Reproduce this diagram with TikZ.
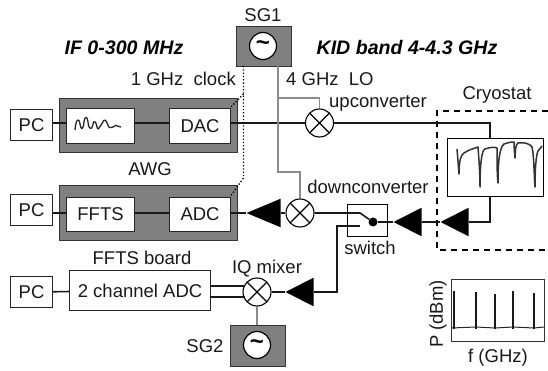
\documentclass[tikz,border=0pt]{standalone}
\usepackage{fontspec}
\setmainfont{Liberation Sans}
\usetikzlibrary{shapes.geometric}
\tikzset{
  x=1pt,y=-1pt,
  lbl/.style={inner sep=0pt,font=\fontsize{18.5}{20}\selectfont,text=black!90},
  ital/.style={inner sep=0pt,font=\fontsize{19.6}{22}\selectfont\bfseries\itshape},
  box/.style={draw=black!85,fill=white,line width=1.1pt,inner sep=0pt,anchor=north west,font=\fontsize{18.5}{20}\selectfont,text=black!90},
  greybox/.style={draw=black!80,fill=black!50,line width=1pt,inner sep=0pt,anchor=north west},
  wire/.style={line width=1.6pt,black!90},
  lo/.style={line width=1.3pt,black!45},
  clk/.style={line width=1.3pt,dotted,black},
  mixer/.style={circle,draw=black,fill=white,line width=1.1pt,minimum size=28pt,inner sep=0pt,
    path picture={\draw[line width=1.1pt] (path picture bounding box.north west)--(path picture bounding box.south east)
      (path picture bounding box.north east)--(path picture bounding box.south west);}},
  osc/.style={circle,draw=black,fill=white,line width=1.2pt,minimum size=27pt,inner sep=0pt,font=\fontsize{24}{24}\selectfont\bfseries},
  amp/.style={isosceles triangle,isosceles triangle stretches,shape border rotate=180,fill=black,inner sep=0pt,
    minimum width=28.5pt,minimum height=28pt,anchor=apex},
  bigamp/.style={amp,minimum height=34pt},
}
\begin{document}
\begin{tikzpicture}
\useasboundingbox (0,0) rectangle (548,371);
% grey housings
\node[greybox,minimum width=178pt,minimum height=54pt] (awg1) at (59,98) {};
\node[greybox,minimum width=178pt,minimum height=55pt] (awg2) at (59,185) {};
\node[greybox,minimum width=55pt,minimum height=40pt] (sg1) at (236,26) {};
\node[greybox,minimum width=55pt,minimum height=41pt] (sg2) at (230,325) {};
\node[osc] (o1) at (263,46) {\textasciitilde};
\node[osc] (o2) at (257,345) {\textasciitilde};
% boxes
\node[box,minimum width=42pt,minimum height=31pt] (pc1) at (10,109) {PC};
\node[box,minimum width=42pt,minimum height=31pt] (pc2) at (10,194) {PC};
\node[box,minimum width=42pt,minimum height=31pt] (pc3) at (10,276) {PC};
\node[box,minimum width=68pt,minimum height=35pt] (wave) at (66,108) {};
\node[box,minimum width=61pt,minimum height=35pt] (dac) at (169,108) {DAC};
\node[box,minimum width=68pt,minimum height=34pt] (ffts) at (66,197) {FFTS};
\node[box,minimum width=61pt,minimum height=34pt] (adc) at (169,197) {ADC};
\node[box,minimum width=141pt,minimum height=40pt] (board) at (69,270) {2 channel ADC};
\node[draw=black,fill=white,line width=1.4pt,inner sep=0pt,anchor=north west,minimum width=40pt,minimum height=32pt] (sw) at (347,204) {};
\node[draw=black,line width=1.4pt,inner sep=0pt,anchor=north west,minimum width=96pt,minimum height=58pt] (kid) at (447,138) {};
\node[draw=black!80,line width=1.1pt,inner sep=0pt,anchor=north west,minimum width=93pt,minimum height=62pt] (spec) at (451,279) {};
% mixers
\node[mixer] (up) at (319.5,123) {};
\node[mixer] (down) at (300,213) {};
\node[mixer] (iq) at (257,292) {};
% amplifiers
\node[bigamp] (a1) at (246,213) {};
\node[amp] (a2) at (285,292) {};
\node[amp] (a3) at (393,222) {};
\node[amp] (a4) at (440,222) {};
\node[circle,fill=black,minimum size=9pt,inner sep=0pt] (dot) at (373,222) {};
% coordinates
\coordinate (lo1) at (278,66);
\coordinate (lo2) at (278,98);
\coordinate (lo3) at (278,172);
\coordinate (cks) at (243.5,66);
\coordinate (ckm) at (243.5,94);
\coordinate (ckn) at (243.5,178);
\coordinate (ckd) at (230,108);
\coordinate (cka) at (230,197);
\coordinate (kidtop) at (490,123);
\coordinate (kidbot) at (490,222);
\coordinate (swa) at (360,213);
\coordinate (swb) at (360,226);
\coordinate (swc) at (337,226);
\coordinate (swd) at (337,292);
\coordinate (ia) at (245,286);
\coordinate (ib) at (245,297);
\coordinate (ba) at (210,286);
\coordinate (bb) at (210,297);
% dashed cryostat
\draw[line width=1.4pt,black,dash pattern=on 6pt off 5pt] (548,111) -- (437,111) -- (437,250) -- (548,250);
% wires
\draw[wire] (pc1.east |- up) -- (wave.west |- up);
\draw[wire] (wave.east |- up) -- (dac.west |- up);
\draw[wire] (dac.east |- up) -- (up);
\draw[wire] (up) -- (kidtop) -- (kid.north -| kidtop);
\draw[wire] (pc2.east |- down) -- (ffts.west |- down);
\draw[wire] (ffts.east |- down) -- (adc.west |- down);
\draw[wire] (adc.east |- down) -- (a1.apex);
\draw[wire] (a1) -- (down);
\draw[wire] (down) -- (swa) -- (dot);
\draw[wire] (dot) -- (a3.apex);
\draw[wire] (a3) -- (a4.apex);
\draw[wire] (a4) -- (kidbot) -- (kid.south -| kidbot);
\draw[wire] (swb) -- (swc) -- (swd) -- (a2);
\draw[wire] (a2.apex) -- (iq);
\draw[wire] (pc3) -- (board);
\draw[wire] (ba) -- (ia);
\draw[wire] (bb) -- (ib);
\draw[lo] (lo1) -- (lo3) -| (down);
\draw[lo] (lo2) -| (up);
\draw[lo] (iq) -- (o2 |- sg2.north);
\draw[clk] (cks) -- (ckn) -- (cka);
\draw[clk] (ckm) -- (ckd);
% traces
\draw[line width=1.3pt,black!85,line join=round,rounded corners=1pt] (75,130) .. controls (76,118) and (79,118) .. (80,124) .. controls (81,130) and (83,130) .. (84,122) .. controls (85,116) and (87,116) .. (88,122) .. controls (89,130) and (92,130) .. (93,124) .. controls (94,120) and (96,122) .. (97,127) .. controls (98,131) and (100,126) .. (102,124) .. controls (104,118) and (106,120) .. (108,125) .. controls (109,129) and (113,127) .. (115,126) .. controls (116,125) and (118,127) .. (121,127);
\draw[line width=1.5pt,black!80,line join=round] (457,149) -- (459,174) .. controls (459,160) and (461,155) .. (464,153) .. controls (470,149) and (476,148) .. (478,147) .. controls (479,160) and (480,175) .. (480,187) .. controls (480,170) and (481,150) .. (485,149) .. controls (490,147) and (495,147) .. (497,148) .. controls (497,160) and (497,175) .. (498,183) .. controls (498,165) and (499,148) .. (504,144) .. controls (510,142) and (512,142) .. (514,142) .. controls (514,150) and (515,155) .. (515,158) .. controls (515,150) and (516,144) .. (518,143) .. controls (525,142) and (530,144) .. (532,147) .. controls (534,155) and (534,175) .. (535,187) .. controls (535,170) and (536,155) .. (538,151) -- (542,146);
\draw[line width=1pt,black!85] (451,328) -- (476,327) -- (495,328) -- (513,327) -- (534,328) -- (544,327);
\foreach \xx/\yy in {454/291,476/292,495/294,513/291,534/293}
  \draw[line width=1.7pt,black!90] (\xx,\yy) -- (\xx,329);
% labels
\node[lbl] (t1) at (263,15) {SG1};
\node[ital] (t2) at (124,48) {IF 0-300 MHz};
\node[ital] (t3) at (407,48) {KID band 4-4.3 GHz};
\node[lbl,anchor=east] (t4) at (236,79) {1 GHz\ \ clock};
\node[lbl,anchor=west] (t5) at (286,79) {4 GHz\ \ LO};
\node[lbl,anchor=west] (t6) at (329,103) {upconverter};
\node[lbl] (t7) at (497,95) {Cryostat};
\node[lbl] (t8) at (150,169) {AWG};
\node[lbl] (t9) at (368,187) {downconverter};
\node[lbl] (t10) at (142,258) {FFTS board};
\node[lbl] (t11) at (267,269) {IQ mixer};
\node[lbl] (t12) at (205,346) {SG2};
\node[lbl] (t13) at (370,248) {switch};
\node[lbl,rotate=90] (t14) at (438,314) {P (dBm)};
\node[lbl] (t15) at (498,358) {f (GHz)};
\end{tikzpicture}
\end{document}
